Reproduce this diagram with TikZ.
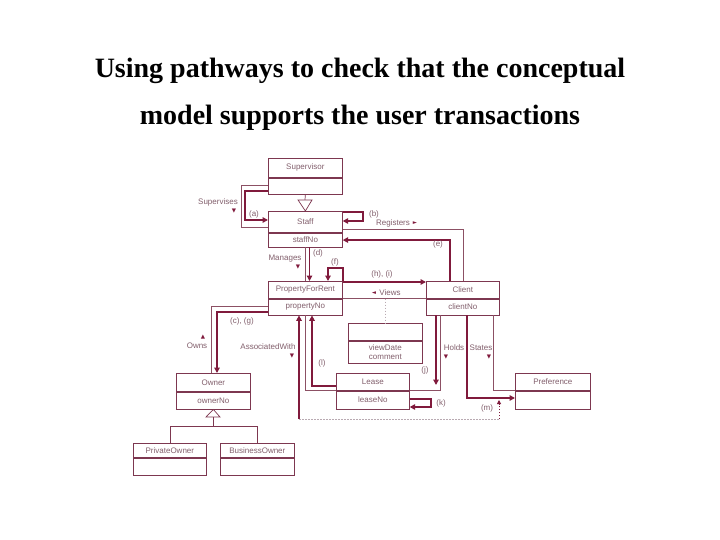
\documentclass[tikz,border=0pt]{standalone}
\usepackage{fontspec}
\setmainfont{Liberation Serif}
\newfontfamily\diagfont{Liberation Sans}
\newfontfamily\symfont{DejaVu Sans}
\usetikzlibrary{arrows.meta}
\definecolor{mar}{RGB}{128,26,60}
\definecolor{boxc}{RGB}{125,55,80}
\definecolor{thinc}{RGB}{140,80,100}
\definecolor{txtc}{RGB}{130,95,108}
\definecolor{dotc}{RGB}{185,170,178}
\begin{document}
\begin{tikzpicture}[x=1pt,y=-1pt,
  cls/.style={draw=boxc,line width=0.7pt,fill=white,inner sep=0pt,anchor=north west,minimum width=74,
    font=\diagfont\fontsize{8}{9}\selectfont,text=txtc,align=center},
  lbl/.style={font=\diagfont\fontsize{8}{9}\selectfont,text=txtc,inner sep=0pt},
  sym/.style={font=\symfont\fontsize{5.5}{6}\selectfont,text=mar,inner sep=0pt},
  thinln/.style={draw=thinc,line width=0.7pt},
  boxln/.style={draw=boxc,line width=0.7pt},
  pway/.style={draw=mar,line width=1.7pt,-{Triangle[length=5.5pt,width=5.5pt]}},
  dotln/.style={draw=dotc,line width=0.7pt,dash pattern=on 1.5pt off 1.5pt},
  title/.style={font=\bfseries\fontsize{28}{32}\selectfont,inner sep=0pt,anchor=base}
]
\fill[white] (0,0) rectangle (720,540);
\useasboundingbox (0,0) rectangle (720,540);

% title
\node[title] (t1) at (360,78) {Using pathways to check that the conceptual};
\node[title] (t2) at (360,125) {model supports the user transactions};

% classes
\node[cls,minimum height=19] (sup) at (268,158) {Supervisor};
\node[cls,minimum height=16,anchor=north] (supA) at (sup.south) {};
\node[cls,minimum height=21] (staff) at (268,211) {Staff};
\node[cls,minimum height=14,anchor=north] (staffA) at (staff.south) {staffNo};
\node[cls,minimum height=17] (pfr) at (268,281) {PropertyForRent};
\node[cls,minimum height=16,anchor=north] (pfrA) at (pfr.south) {propertyNo};
\node[cls,minimum height=17,minimum width=73] (client) at (426,281) {Client};
\node[cls,minimum height=16,minimum width=73,anchor=north] (clientA) at (client.south) {clientNo};
\node[cls,minimum height=17] (view) at (348,323) {};
\node[cls,minimum height=22,anchor=north] (viewA) at (view.south) {viewDate\\comment};
\node[cls,minimum height=18] (owner) at (176,373) {Owner};
\node[cls,minimum height=17,anchor=north] (ownerA) at (owner.south) {ownerNo};
\node[cls,minimum height=17,minimum width=73] (lease) at (336,373) {Lease};
\node[cls,minimum height=18,minimum width=73,anchor=north] (leaseA) at (lease.south) {leaseNo};
\node[cls,minimum height=17,minimum width=75] (pref) at (515,373) {Preference};
\node[cls,minimum height=18,minimum width=75,anchor=north] (prefA) at (pref.south) {};
\node[cls,minimum height=14,minimum width=73] (priv) at (133,443) {PrivateOwner};
\node[cls,minimum height=17,minimum width=73,anchor=north] (privA) at (priv.south) {};
\node[cls,minimum height=14] (bus) at (220,443) {BusinessOwner};
\node[cls,minimum height=17,anchor=north] (busA) at (bus.south) {};

% generalizations
\draw[boxln] (supA.south) -- (305,200);
\draw[boxln,fill=white] (298,200) -- (312,200) -- (staff.north) -- cycle;
\draw[boxln,fill=white] (ownerA.south) -- (220,417) -- (206,417) -- cycle;
\draw[boxln] (213,417) -- (213,426) -| (priv.north);
\draw[boxln] (213,426) -| (bus.north);

% Supervises
\draw[thinln] (supA.west |- 0,185) -| (241,227) -- (staff.west |- 0,227);
\draw[pway] (supA.west |- 0,191) -| (245,220) -- (staff.west |- 0,220);
% (b) and Registers
\draw[pway] (staff.east |- 0,212) -| (363,221) -- (staff.east |- 0,221);
\draw[thinln] (staff.east |- 0,229) -| (client.north -| 463,0);
% (e)
\draw[pway] (client.north -| 450,0) |- (staffA.east);
% Manages and (d)
\draw[thinln] (staffA.south -| 305,0) -- (pfr.north -| 305,0);
\draw[pway] (staffA.south -| 309.5,0) -- (pfr.north -| 309.5,0);
% (f)
\draw[pway] (pfr.north east) |- (328,268) -- (pfr.north -| 328,0);
% (h),(i)
\draw[pway] (pfr.east |- 0,282) -- (client.west |- 0,282);
% Views
\draw[thinln] (pfrA.north east) -- (clientA.north west);
\coordinate (vw) at (view.north |- pfrA.north);
\draw[dotln] (vw) -- (view.north);
% Owns and (c),(g)
\draw[thinln] (pfrA.west |- 0,306) -| (owner.north -| 211,0);
\draw[pway] (pfrA.west |- 0,312) -| (owner.north -| 217,0);
% AssociatedWith and (l)
\draw[thinln] (pfrA.south -| 305,0) |- (leaseA.north west);
\draw[pway] (lease.west |- 0,386) -| (pfrA.south -| 312,0);
% (m) dotted pathway
\coordinate (mdot) at (299,419);
\coordinate (mcor) at (499,419);
\coordinate (mtip) at (499,400);
\draw[pway] (mdot) -- (pfrA.south -| 299,0);
\draw[dotln] (mdot) -- (mcor);
\draw[draw=mar,line width=0.9pt,dash pattern=on 1.5pt off 1.5pt,-{Triangle[length=4pt,width=4pt]}] (mcor) -- (mtip);
% Holds and (j)
\draw[thinln] (clientA.south -| 440,0) |- (leaseA.north east);
\coordinate (jtip) at (436,385);
\draw[pway] (clientA.south -| 436,0) -- (jtip);
% (k)
\draw[pway] (leaseA.east |- 0,399) -| (431,407) -- (leaseA.east |- 0,407);
% States and (m)
\draw[thinln] (clientA.south -| 493,0) |- (prefA.north west);
\draw[pway] (clientA.south -| 467,0) |- (prefA.west |- 0,398);

% labels
\node[lbl] (lsup) at (218,202) {Supervises};
\node[sym] (tsup) at (234,211) {▼};
\node[lbl] (la) at (254,214) {(a)};
\node[lbl] (lb) at (374,214) {(b)};
\node[lbl] (lreg) at (393,223) {Registers};
\node[sym] (treg) at (415,223) {►};
\node[lbl] (le) at (438,244) {(e)};
\node[lbl] (ld) at (318,253) {(d)};
\node[lbl] (lman) at (285,259) {Manages};
\node[sym] (tman) at (298,267) {▼};
\node[lbl] (lf) at (335,262) {(f)};
\node[lbl] (lhi) at (382,274) {(h), (i)};
\node[sym] (tvw) at (374,293) {◄};
\node[lbl] (lvw) at (390,293) {Views};
\node[lbl] (lcg) at (242,321) {(c), (g)};
\node[sym] (town) at (203,337) {▲};
\node[lbl] (lown) at (197,346) {Owns};
\node[lbl] (lass) at (268,347) {AssociatedWith};
\node[sym] (tass) at (292,356) {▼};
\node[lbl] (ll) at (322,363) {(l)};
\node[lbl] (lhol) at (454,348) {Holds};
\node[sym] (thol) at (446,357) {▼};
\node[lbl] (lsta) at (481,348) {States};
\node[sym] (tsta) at (489,357) {▼};
\node[lbl] (lj) at (425,370) {(j)};
\node[lbl] (lk) at (441,403) {(k)};
\node[lbl] (lm) at (487,408) {(m)};
\end{tikzpicture}
\end{document}
